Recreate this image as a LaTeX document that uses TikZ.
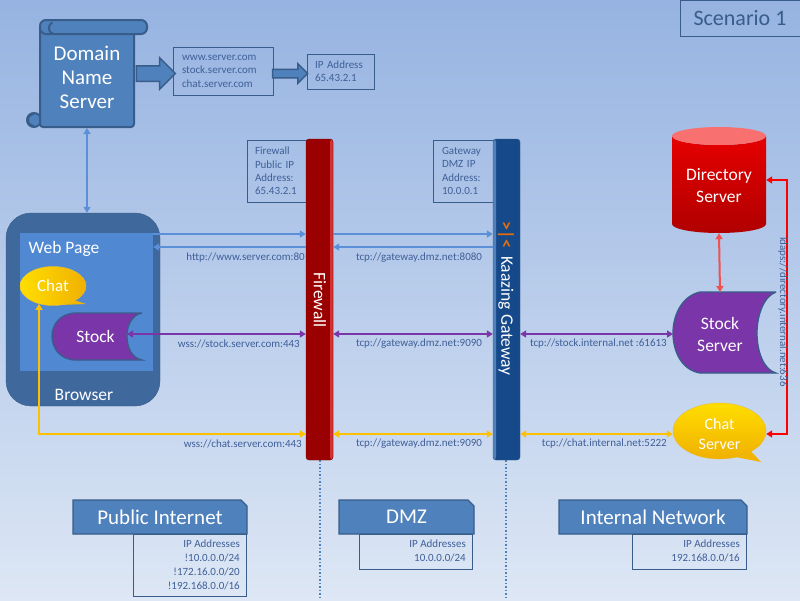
\documentclass[tikz,border=0pt]{standalone}
\usepackage{fontspec}
\setmainfont{Carlito}
\usepackage{tikz}
\usetikzlibrary{arrows.meta, shapes.geometric, shapes.arrows, shapes.misc}
\definecolor{bluefill}{HTML}{4F81BD}
\definecolor{blueline}{HTML}{385D8A}
\definecolor{bluearrow}{HTML}{5B90D8}
\definecolor{infotext}{HTML}{3F5F98}
\definecolor{purplefill}{HTML}{7A35A8}
\definecolor{goldarrow}{HTML}{FFC000}
\definecolor{goldtail}{HTML}{F2B400}
\definecolor{goldlight}{HTML}{FFDE00}
\definecolor{golddark}{HTML}{F0B000}
\definecolor{goldedge}{HTML}{E6BE32}
\definecolor{skytop}{HTML}{96B3E1}
\definecolor{skybottom}{HTML}{DDE7F5}
\definecolor{firewallfill}{HTML}{9B0000}
\definecolor{firewalledge}{HTML}{780000}
\definecolor{firewalllight}{HTML}{D23232}
\definecolor{gatewayfill}{HTML}{15498A}
\definecolor{markorange}{HTML}{E66E0A}
\definecolor{browserfill}{HTML}{3F689D}
\definecolor{pagefill}{HTML}{5089D2}
\definecolor{dirlight}{HTML}{E60000}
\definecolor{dirdark}{HTML}{B00000}
\definecolor{dirtop}{HTML}{F87070}
\definecolor{dirarrow}{HTML}{F05050}
\newcommand{\fs}[2]{\fontsize{#1}{#2}\selectfont}
\tikzset{
  >={Triangle[length=6pt,width=7pt]},
  infobox/.style={draw=blueline, line width=0.9pt, text=infotext, inner ysep=0pt, align=left, font=\fs{11}{13.4}},
  urllabel/.style={text=infotext, inner sep=0pt, font=\fs{11}{12}},
  iplabel/.style={text=infotext, inner sep=0pt, anchor=north east, align=right, font=\fs{11}{14}},
  whitelabel/.style={text=white, inner sep=0pt, align=center},
  webarrow/.style={<->, draw=bluearrow, line width=2pt},
  webone/.style={->, draw=bluearrow, line width=2pt},
  stockarrow/.style={<->, draw=purplefill, line width=2pt},
  chatarrow/.style={<->, draw=goldarrow, line width=2pt},
  ldaparrow/.style={<->, draw=red, line width=2pt},
  zonebox/.style={draw=blueline, fill=bluefill, line width=1.3pt, text=white, inner sep=0pt,
    chamfered rectangle, chamfered rectangle corners=north east, chamfered rectangle xsep=3pt, chamfered rectangle ysep=3pt, font=\fs{21}{24}},
  bigarrow/.style={single arrow, draw=blueline, fill=bluefill, line width=1.5pt, inner xsep=0pt, outer sep=0pt},
  zoneline/.style={draw=bluefill, line width=1.5pt, dotted},
  scrollpart/.style={draw=blueline, fill=bluefill, line width=2pt},
}
\begin{document}
\begin{tikzpicture}[x=1pt,y=-1pt]
\useasboundingbox (0,0) rectangle (800,600);
\shade[top color=skytop, bottom color=skybottom] (0,0) rectangle (800,600);
%
\node[draw=blueline, line width=0.9pt, text=blueline, minimum width=120pt, minimum height=36pt, inner sep=0pt, font=\fs{22}{24}] (scenario) at (740,18) {Scenario 1};
%
% domain name server
\draw[scrollpart] (34,120) circle (7);
\node[scrollpart, rounded corners=3pt, whitelabel, minimum width=94pt, minimum height=100pt, font=\fs{21}{24}] (dns) at (87,77) {Domain\\Name\\Server};
\draw[scrollpart, rounded corners=6pt] (40,20) rectangle (147,34);
\draw[draw=blueline, line width=2pt] (40,34) -- (40,26);
\draw[draw=blueline, line width=2pt] (54,34) arc (90:250:5 and 6);
\draw[draw=blueline, line width=2pt] (34,114) arc (-90:90:-6 and 6);
\node[infobox, text width=82pt, inner xsep=9pt, minimum height=48pt] (names) at (223,71) {www.server.com\\stock.server.com\\chat.server.com};
\node[infobox, text width=51pt, inner xsep=8pt, minimum height=35pt] (ipaddr) at (340.5,71.5) {IP Address\\65.43.2.1};
\node[infobox, text width=43pt, inner xsep=8pt, minimum height=62pt] (fwinfo) at (276.5,171) {Firewall\\Public IP\\Address:\\65.43.2.1};
\node[infobox, text width=42pt, inner xsep=9pt, minimum height=62pt] (gwinfo) at (463,171) {Gateway\\DMZ IP\\Address:\\10.0.0.1};
\node[bigarrow, minimum height=39pt, inner ysep=7pt, single arrow head extend=8pt] (dnsarrow) at (152,73.5) {};
\node[bigarrow, minimum height=35pt, inner ysep=3.5pt, single arrow head extend=5.5pt] (iparrow) at (288,73.5) {};
%
% firewall and gateway
\draw[zoneline] (320,460) -- (320,600);
\draw[zoneline] (506,460) -- (506,600);
\node[draw=firewalledge, fill=firewallfill, rounded corners=3pt, minimum width=27pt, minimum height=321pt, inner sep=0pt,
  path picture={\fill[firewalllight] ([xshift=-3pt]path picture bounding box.north east) rectangle (path picture bounding box.south east);}] (firewall) at (319.5,299.5) {};
\node[draw=blueline, fill=gatewayfill, rounded corners=3pt, minimum width=27pt, minimum height=321pt, inner sep=0pt,
  path picture={\fill[bluefill] (path picture bounding box.north west) rectangle ([xshift=3pt]path picture bounding box.south west);}] (gateway) at (506.5,299.5) {};
\node[whitelabel, rotate=-90, font=\fs{17.5}{20}] (fwtext) at (320,300) {Firewall};
\node[whitelabel, rotate=-90, font=\fs{17.5}{20}] (gwtext) at (506,316) {Kaazing Gateway};
\node[text=markorange, inner sep=0pt, rotate=-90, font=\fs{18}{20}\bfseries] (gwmark) at (506,235) {>|<};
%
% browser
\node[fill=browserfill, draw=blueline, rounded corners=25pt, minimum width=154pt, minimum height=193pt, inner sep=0pt] (browser) at (83,309.5) {};
\node[fill=pagefill, minimum width=133pt, minimum height=138pt, inner sep=0pt] (webpage) at (86.5,302) {};
\node[whitelabel, font=\fs{17.5}{20}] (pagetext) at (64,249) {Web Page};
\node[whitelabel, font=\fs{17.5}{20}] (browsertext) at (84,395) {Browser};
\fill[goldtail] (68,298) -- (86,304) -- (60,305) -- cycle;
\node[ellipse, left color=goldlight, right color=golddark, draw=goldedge, minimum width=66pt, minimum height=39pt, inner sep=0pt, whitelabel, font=\fs{17}{19}] (chat) at (53,286) {Chat};
\draw[draw=blueline, fill=purplefill, line width=1.3pt] (142,313) -- (76,313) .. controls (60,313) and (52,325) .. (52,336) .. controls (52,348) and (60,360) .. (76,360) -- (142,360) .. controls (132,358) and (127,348) .. (127,336) .. controls (127,325) and (132,315) .. (142,313);
\node[whitelabel, minimum width=75pt, minimum height=47pt, font=\fs{17.5}{20}] (stock) at (89.5,336.5) {\hspace*{12pt}Stock};
%
% servers
\shade[top color=dirlight, bottom color=dirdark] (672,136) -- (672,224) arc (180:0:47 and 9) -- (766,136) arc (0:180:47 and 9) -- cycle;
\fill[dirtop] (719,136) ellipse (47 and 9);
\node[whitelabel, minimum width=94pt, minimum height=95pt, font=\fs{17.5}{22}] (directory) at (719,185.5) {Directory\\Server};
\draw[draw=blueline, fill=purplefill, line width=1.3pt] (776,292) -- (700,292) .. controls (682,296) and (673,315) .. (673,333) .. controls (673,352) and (682,370) .. (700,373) -- (776,373) .. controls (764,370) and (757,352) .. (757,333) .. controls (757,315) and (764,296) .. (776,292);
\node[whitelabel, minimum width=84pt, minimum height=81pt, font=\fs{17.5}{22}] (stockserver) at (715,334.5) {\hspace*{10pt}Stock\\\hspace*{10pt}Server};
\fill[goldtail] (745,445) -- (761,462) -- (730,456) -- cycle;
\node[ellipse, top color=goldlight, bottom color=golddark, draw=goldedge, minimum width=93pt, minimum height=56pt, inner sep=0pt, whitelabel, font=\fs{16}{20}] (chatserver) at (719.5,431) {\rule{0pt}{17pt}Chat\\Server};
%
% connectors
\coordinate (rowin) at (0,234);
\coordinate (rowout) at (0,247);
\coordinate (rowstock) at (0,334);
\coordinate (rowchat) at (0,434);
\coordinate (ldapup) at (787,180);
\coordinate (ldapdown) at (787,434);
\coordinate (stockcup) at (127,334);
\coordinate (stockserverleft) at (673,334);
\coordinate (stockservertop) at (720,292);
\draw[webarrow] (dns.south) -- (dns.south |- browser.north);
\draw[webone] (webpage.east |- rowin) -- (firewall.west |- rowin);
\draw[webone] (firewall.west |- rowout) -- (webpage.east |- rowout);
\draw[webone] (firewall.east |- rowin) -- (gateway.west |- rowin);
\draw[webone] (gateway.west |- rowout) -- (firewall.east |- rowout);
\draw[stockarrow] (stockcup) -- (firewall.west |- rowstock);
\draw[stockarrow] (firewall.east |- rowstock) -- (gateway.west |- rowstock);
\draw[stockarrow] (gateway.east |- rowstock) -- (stockserverleft);
\draw[chatarrow] (chat.232) |- (firewall.west |- rowchat);
\draw[chatarrow] (firewall.east |- rowchat) -- (gateway.west |- rowchat);
\draw[chatarrow] (gateway.east |- rowchat) -- (chatserver.west |- rowchat);
\draw[<->, draw=dirarrow, line width=2pt] (directory.south) -- (stockservertop);
\draw[ldaparrow] (directory.east |- ldapup) -- (ldapup) -- (ldapdown) -- (chatserver.east |- ldapdown);
%
% labels
\node[urllabel, anchor=east] (httplabel) at (305,258) {http://www.server.com:80};
\node[urllabel] (gwhttplabel) at (419,258) {tcp://gateway.dmz.net:8080};
\node[urllabel, anchor=east] (wsslabel) at (300,344) {wss://stock.server.com:443};
\node[urllabel] (gwstocklabel) at (419,344) {tcp://gateway.dmz.net:9090};
\node[urllabel, anchor=east] (stocklabel) at (667,344) {tcp://stock.internal.net :61613};
\node[urllabel, anchor=east] (chatlabel) at (302,444) {wss://chat.server.com:443};
\node[urllabel] (gwchatlabel) at (419,444) {tcp://gateway.dmz.net:9090};
\node[urllabel, anchor=east] (chatintlabel) at (667,444) {tcp://chat.internal.net:5222};
\node[urllabel, rotate=-90] (ldaplabel) at (783,312) {ldaps://directory.internal.net:636};
%
% zones
\node[infobox, anchor=north east, inner sep=0pt, minimum width=113pt, minimum height=62pt] (publicinfo) at (247,534) {};
\node[iplabel] (publicips) at (240,540) {IP Addresses\\!10.0.0.0/24\\!172.16.0.0/20\\!192.168.0.0/16};
\node[infobox, anchor=north east, inner sep=0pt, minimum width=113pt, minimum height=35pt] (dmzinfo) at (473,534) {};
\node[iplabel] (dmzips) at (466,540) {IP Addresses\\10.0.0.0/24};
\node[infobox, anchor=north east, inner sep=0pt, minimum width=114pt, minimum height=35pt] (internalinfo) at (747,534) {};
\node[iplabel] (internalips) at (740,540) {IP Addresses\\192.168.0.0/16};
\node[zonebox, minimum width=174pt, minimum height=34pt] (publiczone) at (160,517) {Public Internet};
\node[zonebox, minimum width=135pt, minimum height=34pt] (dmzzone) at (406.5,517) {DMZ};
\node[zonebox, minimum width=188pt, minimum height=34pt] (internalzone) at (653,517) {Internal Network};
\end{tikzpicture}
\end{document}
